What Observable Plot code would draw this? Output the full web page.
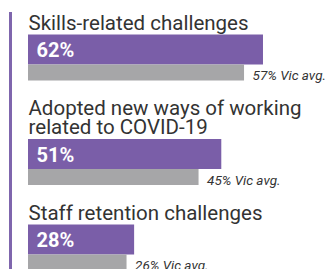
<!DOCTYPE html>
<html>
<head>
<meta charset="utf-8">
<script src="https://cdn.jsdelivr.net/npm/d3@7"></script>
<script src="https://cdn.jsdelivr.net/npm/@observablehq/plot@0.6"></script>
<style>
  html, body { margin: 0; padding: 0; background: #fff; overflow: hidden; }
  #chart svg { overflow: hidden; display: block; }
</style>
</head>
<body>
<div id="chart"></div>
<script>
const categories = ["Skills-related challenges", "Adopted new ways of working\nrelated to COVID-19", "Staff retention challenges"];
const values = [62, 51, 28];
const vicAvg = [57, 45, 26];

// layout constants (pixels)
const W = 326, H = 269;
const firstBaseline = 29, lineH = 19, barGap = 5.5, barH = 30, grayH = 16, blockGap = 34;
const titleSize = 20.5;

let cursor = firstBaseline;
const rows = categories.map((c, i) => {
  const nLines = c.split("\n").length;
  const baseline = cursor + (nLines - 1) * lineH;
  const barTop = baseline + barGap;
  const row = {
    title: c, value: values[i], avg: vicAvg[i],
    baseline, barTop, barBot: barTop + barH, grayBot: barTop + barH + grayH
  };
  cursor = row.grayBot + blockGap;
  return row;
});

const purple = "#7a5ea8";
const gray = "#a6a6a8";

const chart = Plot.plot({
  width: W, height: H,
  marginLeft: 0, marginRight: 0, marginTop: 0, marginBottom: 0,
  x: {domain: [0, 100], range: [28, 407], axis: null},
  y: {type: "identity"},
  style: {fontFamily: "Roboto, sans-serif", background: "#fff"},
  marks: [
    Plot.ruleX([0], {x: 0, dx: -18, y1: 12, y2: H, stroke: "#7f66ad", strokeWidth: 3}),
    Plot.rectX(rows, {x1: 0, x2: "value", y1: "barTop", y2: "barBot", fill: purple}),
    Plot.rectX(rows, {x1: 0, x2: "avg", y1: "barBot", y2: "grayBot", fill: gray}),
    Plot.text(rows, {x: 0, y: "baseline", text: "title", textAnchor: "start", lineAnchor: "bottom",
      lineHeight: lineH / titleSize, fontSize: titleSize, fill: "#333", dx: 0}),
    Plot.text(rows, {x: 0, y: d => (d.barTop + d.barBot) / 2, text: d => `${d.value}%`, textAnchor: "start",
      fontSize: 20, fontWeight: "bold", fill: "#fff", dx: 8, dy: 1}),
    Plot.text(rows, {x: "avg", y: "grayBot", text: d => `${d.avg}% Vic avg.`, textAnchor: "start", lineAnchor: "bottom",
      fontSize: 13.5, fontStyle: "italic", fill: "#333", dx: 8, dy: -1})
  ]
});
document.getElementById("chart").appendChild(chart);
</script>
</body>
</html>
